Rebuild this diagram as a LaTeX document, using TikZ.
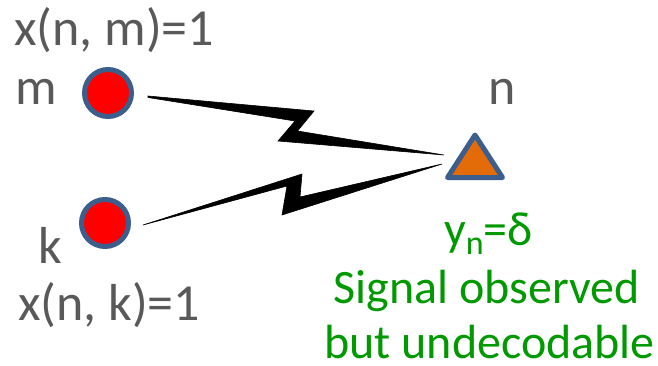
\documentclass[tikz,border=0pt]{standalone}
\usepackage{fontspec}
\setmainfont{Carlito}
\definecolor{txtgray}{HTML}{595959}
\definecolor{grn}{HTML}{009900}
\definecolor{edgeblue}{HTML}{3B5E8C}
\definecolor{dotred}{HTML}{FF0000}
\definecolor{triorange}{HTML}{E36C09}
\tikzset{
  lbl/.style={inner sep=0pt, text=txtgray, font=\fontsize{52}{60}\selectfont},
  glbl/.style={inner sep=0pt, text=grn, font=\fontsize{48}{56}\selectfont},
  dotnode/.style={circle, draw=edgeblue, fill=dotred, line width=5pt, minimum size=47pt, inner sep=0pt},
  bolt/.style={fill=black, draw=black, line width=0.6pt, line join=miter},
}
\begin{document}
\begin{tikzpicture}[x=1pt,y=-1pt]
\useasboundingbox (0,0) rectangle (658,365);
% nodes
\node[dotnode] (dm) at (108,93) {};
\node[dotnode] (dk) at (105,223) {};
\coordinate (ta) at (475,135);
\coordinate (tl) at (447.5,177.5);
\coordinate (tr) at (502.5,177.5);
\filldraw[draw=edgeblue, fill=triorange, line width=5pt, line join=round] (ta) -- (tl) -- (tr) -- cycle;
% bolts
\fill[bolt] (148,96) -- (314,111) -- (297.5,131) -- (444,155) -- (278,141) -- (295,121) -- (148,97.5) -- cycle;
\fill[bolt] (143,225) -- (302,174) -- (300,197) -- (442,164) -- (282,215) -- (287,186) -- cycle;
% labels
\node[lbl, anchor=base west] (xm) at (14,45) {x(n, m)=1};
\node[lbl, anchor=base west] (m) at (15,104) {m};
\node[lbl, anchor=base west] (n) at (488,104) {n};
\node[lbl, anchor=base west] (k) at (38,263) {k};
\node[lbl, anchor=base west] (xk) at (18,320) {x(n, k)=1};
\node[glbl, anchor=base] (yn) at (488.5,245) {y\raisebox{-9pt}{\fontsize{34}{34}\selectfont n}=δ};
\node[glbl, anchor=base] (s1) at (487,303) {Signal observed};
\node[glbl, anchor=base] (s2) at (489.5,358) {but undecodable};
\end{tikzpicture}
\end{document}
